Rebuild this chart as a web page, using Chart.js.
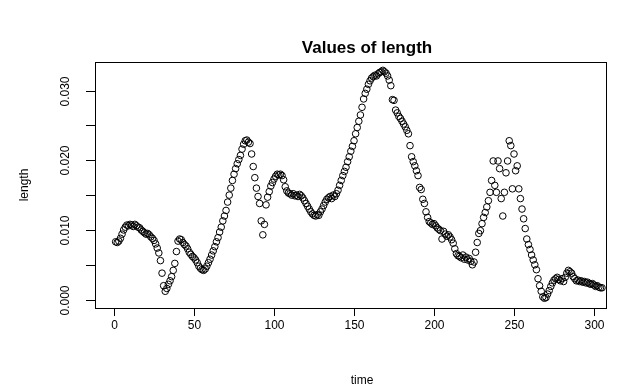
<!DOCTYPE html>
<html>
<head>
<meta charset="utf-8">
<style>
  body { margin: 0; background: #fff; }
  canvas { display: block; }
</style>
</head>
<body>
<!-- canvas the chart is drawn into -->
<canvas id="myChart" width="622" height="392"></canvas>
<script src="https://cdn.jsdelivr.net/npm/chart.js@4.4.1/dist/chart.umd.min.js"></script>
<script>
    // values, one per time step (time = 1, 2, 3, ...)
    const lengthValues = [
        0.0083, 0.0082, 0.0084, 0.0088, 0.0094, 0.0100, 0.0104, 0.0107, 0.0106, 0.0108,
        0.0107, 0.0105, 0.0108, 0.0106, 0.0104, 0.0103, 0.0100, 0.0098, 0.0096, 0.0094,
        0.0095, 0.0093, 0.0090, 0.0088, 0.0085, 0.0080, 0.0074, 0.0067, 0.0056, 0.0038,
        0.0020, 0.0012, 0.0016, 0.0022, 0.0027, 0.0033, 0.0042, 0.0052, 0.0069, 0.0084,
        0.0087, 0.0086, 0.0082, 0.0079, 0.0077, 0.0073, 0.0068, 0.0065, 0.0062, 0.0060,
        0.0057, 0.0053, 0.0048, 0.0045, 0.0043, 0.0042, 0.0044, 0.0048, 0.0053, 0.0058,
        0.0064, 0.0070, 0.0076, 0.0083, 0.0089, 0.0097, 0.0104, 0.0113, 0.0120, 0.0128,
        0.0140, 0.0150, 0.0160, 0.0171, 0.0180, 0.0188, 0.0195, 0.0201, 0.0207, 0.0216,
        0.0223, 0.0228, 0.0229, 0.0226, 0.0224, 0.0209, 0.0191, 0.0175, 0.0160, 0.0148,
        0.0138, 0.0113, 0.0093, 0.0108, 0.0136, 0.0147, 0.0155, 0.0163, 0.0168, 0.0173,
        0.0177, 0.0180, 0.0179, 0.0180, 0.0178, 0.0172, 0.0162, 0.0156, 0.0153, 0.0152,
        0.0150, 0.0152, 0.0149, 0.0150, 0.0148, 0.0151, 0.0149, 0.0146, 0.0142, 0.0138,
        0.0134, 0.0130, 0.0126, 0.0123, 0.0121, 0.0120, 0.0122, 0.0121, 0.0126, 0.0130,
        0.0135, 0.0140, 0.0144, 0.0146, 0.0148, 0.0145, 0.0150, 0.0148, 0.0152, 0.0157,
        0.0164, 0.0171, 0.0178, 0.0184, 0.0190, 0.0198, 0.0205, 0.0213, 0.0220, 0.0228,
        0.0238, 0.0247, 0.0256, 0.0265, 0.0276, 0.0288, 0.0296, 0.0302, 0.0309, 0.0314,
        0.0318, 0.0320, 0.0322, 0.0321, 0.0324, 0.0326, 0.0327, 0.0329, 0.0327, 0.0325,
        0.0321, 0.0315, 0.0307, 0.0287, 0.0286, 0.0272, 0.0268, 0.0263, 0.0260, 0.0256,
        0.0252, 0.0248, 0.0243, 0.0238, 0.0221, 0.0205, 0.0198, 0.0192, 0.0185, 0.0178,
        0.0161, 0.0158, 0.0144, 0.0138, 0.0126, 0.0118, 0.0112, 0.0110, 0.0108, 0.0109,
        0.0106, 0.0103, 0.0101, 0.0099, 0.0087, 0.0098, 0.0094, 0.0091, 0.0093, 0.0090,
        0.0086, 0.0081, 0.0073, 0.0066, 0.0063, 0.0062, 0.0060, 0.0064, 0.0058, 0.0061,
        0.0057, 0.0059, 0.0055, 0.0050, 0.0054, 0.0068, 0.0082, 0.0095, 0.0099, 0.0109,
        0.0118, 0.0125, 0.0133, 0.0142, 0.0154, 0.0171, 0.0199, 0.0164, 0.0154, 0.0199,
        0.0188, 0.0145, 0.0120, 0.0154, 0.0182, 0.0199, 0.0228, 0.0221, 0.0159, 0.0209,
        0.0185, 0.0192, 0.0159, 0.0145, 0.0130, 0.0116, 0.0102, 0.0087, 0.0079, 0.0072,
        0.0064, 0.0057, 0.0050, 0.0043, 0.0030, 0.0020, 0.0012, 0.0004, 0.0002, 0.0003,
        0.0008, 0.0013, 0.0019, 0.0024, 0.0028, 0.0030, 0.0032, 0.0029, 0.0027, 0.0030,
        0.0026, 0.0032, 0.0038, 0.0042, 0.0040, 0.0038, 0.0033, 0.0030, 0.0027, 0.0028,
        0.0026, 0.0027, 0.0025, 0.0026, 0.0024, 0.0025, 0.0023, 0.0022, 0.0023, 0.0021,
        0.0019, 0.0020, 0.0018, 0.0017, 0.0017
    ];
    // time is just the index of each value
    const time = lengthValues.map((v, i) => i + 1);

    const xTicks = [0, 50, 100, 150, 200, 250, 300];
    const yTicks = [0, 0.005, 0.010, 0.015, 0.020, 0.025, 0.030];
    const yTickLabels = ['0.000', '', '0.010', '', '0.020', '', '0.030'];

    const font = '"Liberation Sans", Arial, sans-serif';

    // base graphics look: box, outward ticks, rotated y labels, titles
    const rAxes = {
        id: 'rAxes',
        afterDraw(chart) {
            const { ctx, chartArea: a, scales: { x, y } } = chart;
            ctx.save();
            ctx.strokeStyle = '#000';
            ctx.fillStyle = '#000';
            ctx.lineWidth = 1;
            ctx.strokeRect(a.left + 0.5, a.top + 0.5, a.right - a.left, a.bottom - a.top);

            ctx.font = '12px ' + font;
            ctx.textAlign = 'center';
            ctx.textBaseline = 'middle';
            xTicks.forEach(v => {
                const px = Math.round(x.getPixelForValue(v)) + 0.5;
                ctx.beginPath();
                ctx.moveTo(px, a.bottom);
                ctx.lineTo(px, a.bottom + 8);
                ctx.stroke();
                ctx.fillText(String(v), px, a.bottom + 18);
            });
            yTicks.forEach((v, i) => {
                const py = Math.round(y.getPixelForValue(v)) + 0.5;
                ctx.beginPath();
                ctx.moveTo(a.left - 9, py);
                ctx.lineTo(a.left, py);
                ctx.stroke();
                if (yTickLabels[i]) {
                    ctx.save();
                    ctx.translate(a.left - 29, py);
                    ctx.rotate(-Math.PI / 2);
                    ctx.fillText(yTickLabels[i], 0, 0);
                    ctx.restore();
                }
            });

            // axis titles
            ctx.fillText('time', 362, 381);
            ctx.save();
            ctx.translate(25, (a.top + a.bottom) / 2);
            ctx.rotate(-Math.PI / 2);
            ctx.fillText('length', 0, 0);
            ctx.restore();

            // main title
            ctx.font = 'bold 17px ' + font;
            ctx.fillText('Values of length', 367, 48);
            ctx.restore();
        }
    };

    const ctx = document.getElementById('myChart');
    const myChart = new Chart(ctx, {
        type: 'scatter',
        data: {
            datasets: [{
                label: 'length',
                data: time.map((t, i) => ({ x: t, y: lengthValues[i] })),
                pointStyle: 'circle',
                pointRadius: 3.3,
                pointHoverRadius: 3.3,
                pointBorderWidth: 1,
                pointBorderColor: '#000',
                pointBackgroundColor: 'rgba(0,0,0,0)'
            }]
        },
        options: {
            responsive: false,
            animation: false,
            events: [],
            layout: { padding: { left: 95, right: 16, top: 62, bottom: 84 } },
            plugins: {
                legend: { display: false },
                tooltip: { enabled: false }
            },
            scales: {
                x: { type: 'linear', min: -11.9, max: 307.5, display: false },
                y: { type: 'linear', min: -0.0012, max: 0.0341, display: false }
            }
        },
        plugins: [rAxes]
    });
</script>
</body>
</html>
